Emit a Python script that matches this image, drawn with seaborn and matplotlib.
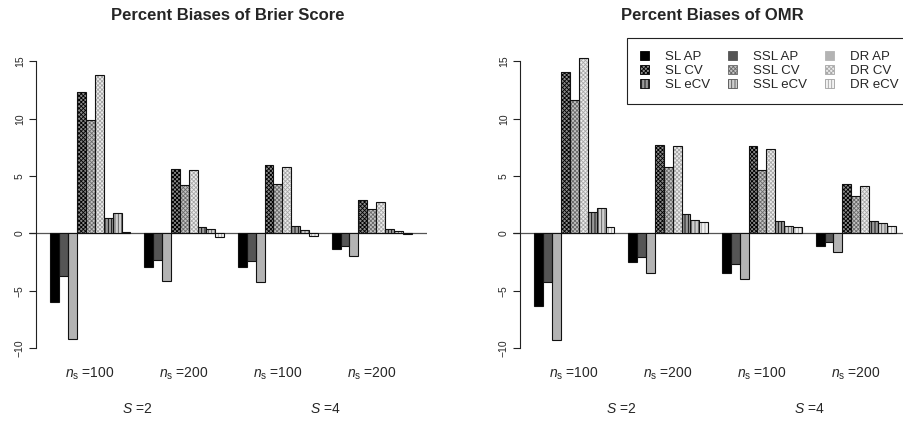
import numpy as np
import pandas as pd
import seaborn as sns
import matplotlib
matplotlib.use("Agg")
import matplotlib.pyplot as plt
import matplotlib.patches as mpatches
from matplotlib.transforms import blended_transform_factory

sns.set_theme(style="white")
plt.rcParams['font.family'] = ['Liberation Sans', 'DejaVu Sans']
plt.rcParams['mathtext.fontset'] = 'custom'
plt.rcParams['mathtext.rm'] = 'Liberation Sans'
plt.rcParams['mathtext.it'] = 'Liberation Sans:italic'
plt.rcParams['hatch.linewidth'] = 0.6

# ---------------- data ----------------
methods = ["SL AP", "SSL AP", "DR AP",
           "SL CV", "SSL CV", "DR CV",
           "SL eCV", "SSL eCV", "DR eCV"]
groups = [r"$n_{\mathrm{s}}$ =100", r"$n_{\mathrm{s}}$ =200",
          r"$n_{\mathrm{s}}$ =100 ", r"$n_{\mathrm{s}}$ =200 "]
s_labels = [r"$S$ =2", r"$S$ =4"]

# Percent biases of Brier score
brier_sl_ap = [-6.0, -2.95, -2.95, -1.37]
brier_ssl_ap = [-3.75, -2.3, -2.45, -1.14]
brier_dr_ap = [-9.2, -4.15, -4.2, -1.95]
brier_sl_cv = [12.33, 5.64, 6.0, 2.9]
brier_ssl_cv = [9.9, 4.2, 4.3, 2.14]
brier_dr_cv = [13.85, 5.5, 5.8, 2.75]
brier_sl_ecv = [1.3, 0.52, 0.65, 0.38]
brier_ssl_ecv = [1.75, 0.35, 0.3, 0.2]
brier_dr_ecv = [0.1, -0.3, -0.2, -0.05]

# Percent biases of OMR
omr_sl_ap = [-6.3, -2.5, -3.42, -1.1]
omr_ssl_ap = [-4.2, -2.05, -2.7, -0.79]
omr_dr_ap = [-9.3, -3.48, -3.97, -1.63]
omr_sl_cv = [14.1, 7.75, 7.63, 4.3]
omr_ssl_cv = [11.67, 5.8, 5.56, 3.25]
omr_dr_cv = [15.3, 7.63, 7.4, 4.1]
omr_sl_ecv = [1.9, 1.67, 1.05, 1.1]
omr_ssl_ecv = [2.2, 1.14, 0.65, 0.9]
omr_dr_ecv = [0.55, 1.0, 0.56, 0.65]

brier_series = [brier_sl_ap, brier_ssl_ap, brier_dr_ap, brier_sl_cv, brier_ssl_cv,
                brier_dr_cv, brier_sl_ecv, brier_ssl_ecv, brier_dr_ecv]
omr_series = [omr_sl_ap, omr_ssl_ap, omr_dr_ap, omr_sl_cv, omr_ssl_cv,
              omr_dr_cv, omr_sl_ecv, omr_ssl_ecv, omr_dr_ecv]

# ---------------- styles ----------------
face_colors = ["#000000", "#555555", "#b3b3b3",
               "#8a8a8a", "#c4c4c4", "#ececec",
               "#9a9a9a", "#cfcfcf", "#f2f2f2"]
hatch_colors = ["#000000", "#555555", "#b3b3b3",
                "#000000", "#6a6a6a", "#a8a8a8",
                "#000000", "#555555", "#a0a0a0"]
hatches = [None, None, None,
           "xxxxxxxx", "xxxxxxxx", "xxxxxxxx",
           "|||||", "|||||", "|||||"]


def make_df(series):
    rows = []
    for m, vals in zip(methods, series):
        for g, v in zip(groups, vals):
            rows.append({"group": g, "method": m, "value": v})
    return pd.DataFrame(rows)


W, H = 904, 422
fig = plt.figure(figsize=(W / 100, H / 100), dpi=100)
ax_w = 398 / W
ax_b = (H - 360) / H
ax_h = 322 / H
ax1 = fig.add_axes([29 / W, ax_b, ax_w, ax_h])
ax2 = fig.add_axes([513 / W, ax_b, ax_w, ax_h])

bar_width = 9 / 10.5


def draw(ax, series, title):
    df = make_df(series)
    ax.axhline(0, color="#555555", lw=0.9, zorder=0.5)
    # fill + hatch pass
    sns.barplot(data=df, x="group", y="value", hue="method", order=groups,
                hue_order=methods, palette=face_colors, width=bar_width,
                saturation=1, errorbar=None, legend=False, ax=ax, zorder=2)
    n0 = len(ax.containers)
    for i, cont in enumerate(ax.containers[:n0]):
        for p in cont:
            p.set_hatch(hatches[i])
            p.set_edgecolor(hatch_colors[i])
            p.set_linewidth(0)
    # outline pass
    sns.barplot(data=df, x="group", y="value", hue="method", order=groups,
                hue_order=methods, palette=face_colors, width=bar_width,
                saturation=1, errorbar=None, legend=False, ax=ax, zorder=3)
    for cont in ax.containers[n0:]:
        for p in cont:
            p.set_facecolor("none")
            p.set_edgecolor("#111111")
            p.set_linewidth(0.8)

    ax.set_xlim(-0.6526, 3.588)
    ax.set_ylim(-11.04, 17.04)
    ax.set_xlabel("")
    ax.set_ylabel("")
    for s in ["top", "right", "bottom"]:
        ax.spines[s].set_visible(False)
    ax.spines["left"].set_bounds(-10, 15)
    ax.spines["left"].set_position(("outward", -5.0))
    ax.spines["left"].set_color("#222222")
    ax.spines["left"].set_linewidth(0.8)
    ax.set_yticks([-10, -5, 0, 5, 10, 15])
    ax.set_yticklabels(["\u221210", "\u22125", "0", "5", "10", "15"],
                       rotation=90, va="center")
    ax.tick_params(axis="y", length=5, width=0.8, color="#222222",
                   labelsize=7.5, pad=3, left=True)
    ax.tick_params(axis="x", length=0, labelsize=10, pad=4)
    ax.set_title(title, fontweight="bold", fontsize=12, pad=13)
    tr = blended_transform_factory(ax.transData, ax.transAxes)
    for xpos, lab in zip([0.5, 2.5], s_labels):
        ax.text(xpos, -0.152, lab, transform=tr, ha="center", va="center",
                fontsize=10)


draw(ax1, brier_series, "Percent Biases of Brier Score")
draw(ax2, omr_series, "Percent Biases of OMR")

# legend (column-major order)
order = [0, 3, 6, 1, 4, 7, 2, 5, 8]
handles = [mpatches.Patch(facecolor=face_colors[i], edgecolor=hatch_colors[i],
                          hatch=hatches[i], linewidth=0.6, label=methods[i])
           for i in order]
leg = ax2.legend(handles=handles, ncol=3, loc="upper right",
                 bbox_to_anchor=(1.0, 1.0), borderaxespad=0, fontsize=9.5,
                 frameon=True, fancybox=False, framealpha=1,
                 handlelength=0.7, handleheight=0.7, handletextpad=1.2,
                 columnspacing=1.35, labelspacing=0.15, borderpad=0.95)
leg.get_frame().set_edgecolor("#222222")
leg.get_frame().set_linewidth(0.8)

fig.savefig("out.png", dpi=100)
